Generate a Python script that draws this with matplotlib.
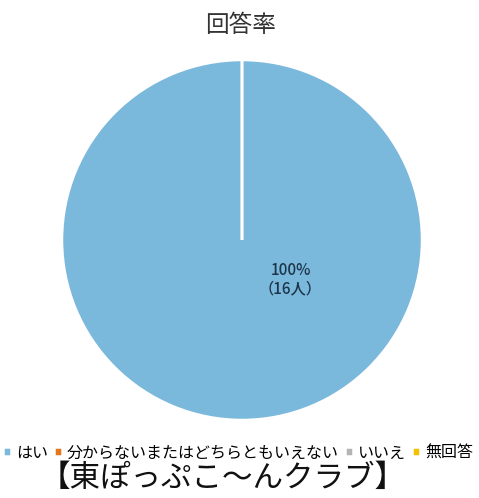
import matplotlib.pyplot as plt

plt.rcParams['font.family'] = ['Noto Sans CJK JP', 'DejaVu Sans']

categories = ['はい', '分からないまたはどちらともいえない', 'いいえ', '無回答']
counts = [16, 0, 0, 0]
colors = ['#7ab8dc', '#e4761e', '#b4b4b4', '#f5c000']

fig = plt.figure(figsize=(4.79, 4.98), dpi=100)
ax = fig.add_axes([(242 - 180) / 479, 1 - 420 / 498, 360 / 479, 360 / 498])

wedges, _ = ax.pie(counts, colors=colors, startangle=90, counterclock=False,
                   wedgeprops=dict(edgecolor='white', linewidth=1.8))
ax.set_aspect('equal')
ax.set_xlim(-1, 1)
ax.set_ylim(-1, 1)

total = sum(counts)
ax.text(0.27, -0.22, '{:.0f}%\n（{}人）'.format(counts[0] / total * 100, counts[0]),
        ha='center', va='center', fontsize=11, fontweight='medium', color='#1d3448',
        linespacing=1.1)

fig.text(0.502, 1 - 25 / 498, '回答率', ha='center', va='center', fontsize=17, color='#333333')

leg = fig.legend(wedges, categories, loc='center', bbox_to_anchor=(0.497, 1 - 453 / 498),
                 ncol=4, frameon=False, fontsize=11.5, handlelength=0.5, handleheight=0.5,
                 handletextpad=0.3, columnspacing=0.4, borderaxespad=0)

fig.text(0.465, 1 - 478 / 498, '【東ぽっぷこ～んクラブ】', ha='center', va='center',
         fontsize=22, color='#111111')

fig.savefig('out.png', dpi=100)
